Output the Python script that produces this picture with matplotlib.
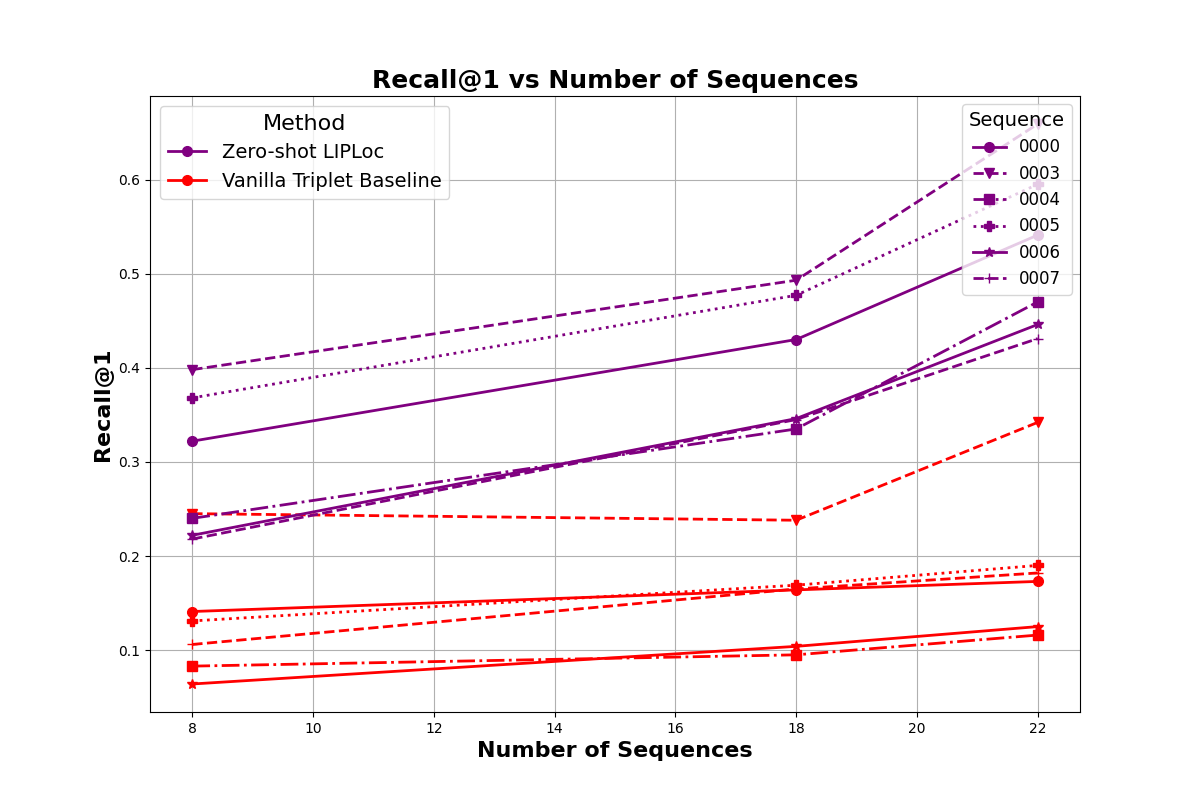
import matplotlib.pyplot as plt
from matplotlib.lines import Line2D

x = [8, 18, 22]
seqs = ["0000", "0003", "0004", "0005", "0006", "0007"]

# Zero-shot LIPLoc
lip_0000 = [0.322, 0.430, 0.541]
lip_0003 = [0.398, 0.493, 0.659]
lip_0004 = [0.240, 0.335, 0.470]
lip_0005 = [0.368, 0.477, 0.595]
lip_0006 = [0.222, 0.346, 0.446]
lip_0007 = [0.218, 0.345, 0.431]

# Vanilla triplet baseline
van_0000 = [0.141, 0.164, 0.173]
van_0003 = [0.245, 0.238, 0.342]
van_0004 = [0.083, 0.095, 0.116]
van_0005 = [0.131, 0.169, 0.190]
van_0006 = [0.064, 0.104, 0.125]
van_0007 = [0.106, 0.165, 0.182]

lip = [lip_0000, lip_0003, lip_0004, lip_0005, lip_0006, lip_0007]
van = [van_0000, van_0003, van_0004, van_0005, van_0006, van_0007]

markers = ["o", "v", "s", "P", "*", "+"]
styles = ["-", "--", "-.", ":", "-", "--"]

fig, ax = plt.subplots(figsize=(12, 8), dpi=100)

for i in range(len(seqs)):
    ax.plot(x, lip[i], color="purple", marker=markers[i], linestyle=styles[i],
            linewidth=2, markersize=7)
    ax.plot(x, van[i], color="red", marker=markers[i], linestyle=styles[i],
            linewidth=2, markersize=7)

ax.set_title("Recall@1 vs Number of Sequences", fontsize=18, fontweight="bold")
ax.set_xlabel("Number of Sequences", fontsize=16, fontweight="bold")
ax.set_ylabel("Recall@1", fontsize=16, fontweight="bold")
ax.grid(True)

method_handles = [
    Line2D([0], [0], color="purple", marker="o", linewidth=2, markersize=7),
    Line2D([0], [0], color="red", marker="o", linewidth=2, markersize=7),
]
leg1 = ax.legend(method_handles, ["Zero-shot LIPLoc", "Vanilla Triplet Baseline"],
                 title="Method", loc="upper left", fontsize=14, title_fontsize=16)
ax.add_artist(leg1)

seq_handles = [Line2D([0], [0], color="purple", marker=markers[i], linestyle=styles[i],
                      linewidth=2, markersize=7) for i in range(len(seqs))]
ax.legend(seq_handles, seqs, title="Sequence", loc="upper right",
          fontsize=12, title_fontsize=14)

plt.savefig("out.png")
